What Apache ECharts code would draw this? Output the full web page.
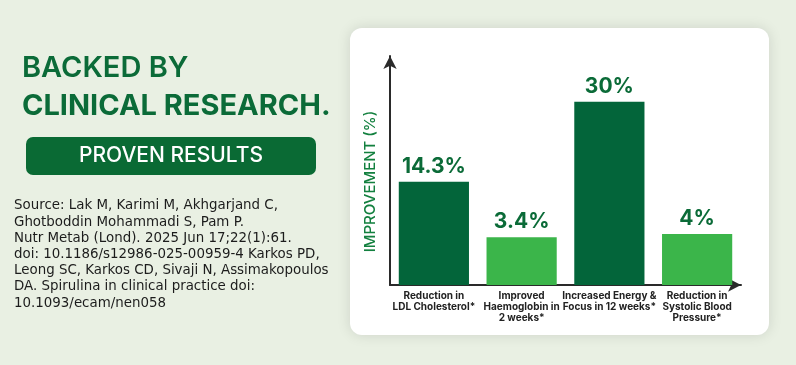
<!DOCTYPE html>
<html><head><meta charset="utf-8">
<script src="https://cdn.jsdelivr.net/npm/echarts@6/dist/echarts.min.js"></script>
<style>html,body{margin:0;padding:0;background:#e9f0e3;}#c{width:796px;height:365px;}</style>
</head><body><div id="c"></div>
<script>
const categories = ['Reduction in\nLDL Cholesterol*', 'Improved\nHaemoglobin in\n2 weeks*', 'Increased Energy &\nFocus in 12 weeks*', 'Reduction in\nSystolic Blood\nPressure*'];
const values = [14.3, 3.4, 30, 4];
const titleLines = ['BACKED BY', 'CLINICAL RESEARCH.'];
const buttonText = 'PROVEN RESULTS';
const sourceLines = [
  'Source: Lak M, Karimi M, Akhgarjand C,',
  'Ghotboddin Mohammadi S, Pam P.',
  'Nutr Metab (Lond). 2025 Jun 17;22(1):61.',
  'doi: 10.1186/s12986-025-00959-4 Karkos PD,',
  'Leong SC, Karkos CD, Sivaji N, Assimakopoulos',
  'DA. Spirulina in clinical practice doi:',
  '10.1093/ecam/nen058'
];
const yAxisName = 'IMPROVEMENT (%)';

const DARK = '#03653a', LIGHT = '#3bb54a', TEXTGREEN = '#0b6b38';
const barColors = [DARK, LIGHT, DARK, LIGHT];
const FONT = 'Inter, "Open Sans", sans-serif';

const chart = echarts.init(document.getElementById('c'));
const graphics = [
  { type: 'rect', z: -10, shape: { x: 350, y: 28, width: 419, height: 307, r: 12 },
    style: { fill: '#ffffff', shadowBlur: 14, shadowColor: 'rgba(0,0,0,0.12)' } },
  { type: 'text', style: { text: titleLines[0], x: 22, y: 68, fill: TEXTGREEN, font: '600 29px ' + FONT, verticalAlign: 'middle' } },
  { type: 'text', style: { text: titleLines[1], x: 22, y: 106, fill: TEXTGREEN, font: '700 29px ' + FONT, verticalAlign: 'middle' } },
  { type: 'rect', shape: { x: 26, y: 137, width: 290, height: 38, r: 7 }, style: { fill: '#0a6a34' } },
  { type: 'text', style: { text: buttonText, x: 171, y: 156, fill: '#ffffff', font: '500 21px ' + FONT, align: 'center', verticalAlign: 'middle' } }
];
sourceLines.forEach((t, i) => {
  graphics.push({ type: 'text', style: { text: t, x: 14, y: 206 + i * 16.2, fill: '#1c1c1c', font: '13.4px "DejaVu Sans", sans-serif', verticalAlign: 'middle' } });
});

chart.setOption({
  backgroundColor: '#e9f0e3',
  animation: false,
  graphic: graphics,
  grid: { left: 390, right: 55, top: 56, bottom: 80 },
  xAxis: {
    type: 'category', data: categories,
    axisLine: { show: true, onZero: false, symbol: ['none', 'arrow'], symbolSize: [10, 13], lineStyle: { color: '#2a2a2a', width: 2 } },
    axisTick: { show: false },
    axisLabel: { interval: 0, margin: 5, color: '#222', fontSize: 10, fontWeight: 700, fontFamily: FONT, lineHeight: 11 }
  },
  yAxis: {
    type: 'value', min: -6, max: 39, startValue: -6,
    name: yAxisName, nameLocation: 'middle', nameGap: 12, nameRotate: 90,
    nameTextStyle: { color: '#13803f', fontSize: 15, fontWeight: 500, fontFamily: FONT, padding: [0, 22, 0, 0] },
    axisLine: { show: true, symbol: ['none', 'arrow'], symbolSize: [10, 13], lineStyle: { color: '#2a2a2a', width: 2 } },
    axisTick: { show: false }, axisLabel: { show: false }, splitLine: { show: false }
  },
  series: [{
    type: 'bar', barCategoryGap: '20%',
    data: values.map((v, i) => ({ value: v, itemStyle: { color: barColors[i] } })),
    label: { show: true, position: 'top', distance: 5, formatter: p => p.value + '%',
      color: TEXTGREEN, fontSize: 21, fontWeight: 700, fontFamily: FONT }
  }]
});
</script></body></html>
